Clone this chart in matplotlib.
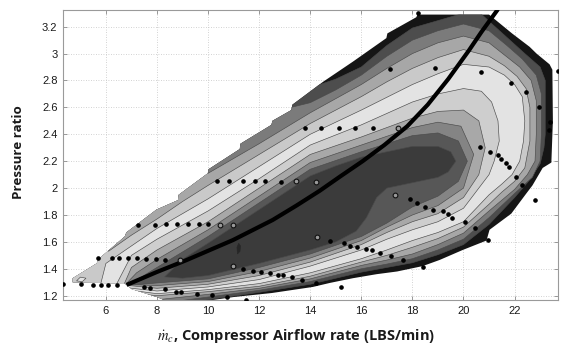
import matplotlib
matplotlib.use("Agg")
import matplotlib.pyplot as plt
from matplotlib.patches import Polygon

plt.rcParams['mathtext.fontset'] = 'stix'

# ---------------- data ----------------
x_ticks = [6, 8, 10, 12, 14, 16, 18, 20, 22]
y_ticks = [1.2, 1.4, 1.6, 1.8, 2.0, 2.2, 2.4, 2.6, 2.8, 3.0, 3.2]

# outer boundary of the measured map region
region = [(4.70, 1.30), (4.70, 1.33), (5.64, 1.44), (5.70, 1.47), (6.74, 1.64), (6.80, 1.67),
          (7.98, 1.84), (8.82, 1.91), (8.85, 1.95), (9.99, 2.11), (10.02, 2.14), (11.24, 2.29),
          (11.27, 2.33), (12.48, 2.47), (12.52, 2.50), (13.26, 2.58), (13.30, 2.62), (14.50, 2.79),
          (15.67, 2.94), (16.98, 3.115), (17.02, 3.15), (18.15, 3.27), (18.20, 3.29), (21.00, 3.29),
          (21.90, 3.15), (22.59, 3.05), (22.86, 3.00), (23.37, 2.92), (23.48, 2.88), (23.50, 2.50),
          (23.44, 2.19), (23.10, 2.15), (22.70, 2.02), (22.46, 1.96), (21.87, 1.81), (21.02, 1.69),
          (20.90, 1.61), (19.97, 1.54), (19.07, 1.466), (18.40, 1.42), (17.40, 1.38), (16.60, 1.36),
          (15.67, 1.33), (14.77, 1.295), (14.10, 1.265), (12.50, 1.22), (11.00, 1.19), (9.50, 1.15),
          (8.50, 1.15), (8.00, 1.19), (7.50, 1.22), (7.00, 1.25), (6.75, 1.29)]

# filled contour levels, outermost first
level_1 = [(3.5, 1.0), (3.5, 2.95), (14.0, 2.95), (14.3, 2.765), (15.0, 2.81), (16.0, 2.90), (17.0, 3.06),
           (18.0, 3.19), (19.0, 3.245), (20.0, 3.30), (20.1, 3.40), (21.0, 3.24), (21.7, 3.12), (22.4, 3.0),
           (23.0, 2.9), (23.2, 2.8), (23.2, 2.4), (23.15, 2.3), (23.0, 2.18), (22.5, 2.04), (22.0, 1.93),
           (21.0, 1.73), (20.0, 1.58), (19.0, 1.505), (18.0, 1.445), (17.0, 1.41), (16.0, 1.375),
           (14.0, 1.285), (12.0, 1.225), (10.0, 1.17), (8.0, 1.12)]
level_2 = [(3.5, 1.0), (3.5, 2.8), (12.9, 2.8), (13.25, 2.6), (14.0, 2.635), (15.0, 2.73), (16.0, 2.84),
           (17.0, 2.98), (18.0, 3.10), (19.0, 3.17), (20.0, 3.22), (21.0, 3.17), (21.7, 3.06), (22.3, 2.96),
           (22.85, 2.84), (23.05, 2.7), (23.05, 2.4), (23.0, 2.2), (22.7, 2.08), (22.0, 1.96), (21.0, 1.78),
           (20.0, 1.62), (19.0, 1.54), (18.0, 1.475), (17.0, 1.435), (16.0, 1.40), (14.0, 1.305),
           (12.0, 1.24), (10.0, 1.19), (8.0, 1.14)]
level_3 = [(3.5, 1.02), (3.5, 2.4), (9.7, 2.4), (10.0, 2.11), (11.0, 2.22), (12.0, 2.33), (13.0, 2.445),
           (14.0, 2.56), (15.0, 2.665), (16.0, 2.77), (17.0, 2.89), (18.0, 3.0), (19.0, 3.08), (20.0, 3.13),
           (21.0, 3.08), (21.6, 2.99), (22.2, 2.9), (22.65, 2.8), (22.85, 2.65), (22.85, 2.4), (22.8, 2.2),
           (22.5, 2.1), (22.0, 1.99), (21.0, 1.83), (20.0, 1.665), (19.0, 1.58), (18.0, 1.51), (17.0, 1.465),
           (16.0, 1.425), (14.0, 1.325), (12.0, 1.255), (10.0, 1.21), (8.0, 1.17)]
level_4 = [(3.5, 1.05), (3.5, 2.0), (5.8, 2.0), (6.1, 1.53), (7.0, 1.65), (8.0, 1.77), (9.0, 1.90),
           (10.0, 2.02), (11.0, 2.135), (12.0, 2.25), (13.0, 2.365), (14.0, 2.48), (15.0, 2.58), (16.0, 2.68),
           (17.0, 2.79), (18.0, 2.89), (19.0, 2.97), (20.0, 3.03), (21.0, 2.98), (21.6, 2.91), (22.1, 2.83),
           (22.45, 2.74), (22.6, 2.6), (22.6, 2.35), (22.4, 2.15), (22.0, 2.05), (21.5, 1.97), (21.0, 1.88),
           (20.0, 1.71), (19.0, 1.625), (18.0, 1.56), (17.0, 1.5), (16.0, 1.45), (14.0, 1.345), (12.0, 1.27),
           (10.0, 1.23), (8.0, 1.20), (7.0, 1.22)]
level_5 = [(5.8, 1.29), (6.0, 1.44), (7.0, 1.57), (8.0, 1.70), (9.0, 1.81), (10.0, 1.92), (11.0, 2.04),
           (12.0, 2.16), (13.0, 2.28), (14.0, 2.40), (15.0, 2.49), (16.0, 2.58), (17.0, 2.675), (18.0, 2.77),
           (19.0, 2.85), (20.0, 2.92), (21.0, 2.9), (21.6, 2.84), (22.0, 2.77), (22.3, 2.68), (22.4, 2.5),
           (22.35, 2.35), (22.2, 2.2), (21.9, 2.1), (21.5, 2.03), (21.0, 1.95), (20.0, 1.75), (19.0, 1.67),
           (18.0, 1.61), (17.0, 1.54), (16.0, 1.475), (14.0, 1.37), (12.0, 1.29), (10.0, 1.245),
           (8.0, 1.215), (7.0, 1.24), (6.3, 1.27)]
tip_loop = [(4.85, 1.31), (5.0, 1.338), (5.22, 1.33), (5.08, 1.305)]
level_6 = [(6.4, 1.28), (7.0, 1.50), (8.0, 1.62), (9.0, 1.725), (10.0, 1.83), (11.0, 1.95), (12.0, 2.07),
           (13.0, 2.195), (14.0, 2.32), (15.0, 2.395), (16.0, 2.47), (17.0, 2.555), (18.0, 2.64), (19.0, 2.70),
           (20.0, 2.74), (20.7, 2.72), (21.1, 2.64), (21.35, 2.5), (21.4, 2.35), (21.2, 2.2), (21.0, 2.1),
           (20.0, 1.85), (19.0, 1.75), (18.0, 1.69), (17.0, 1.62), (16.0, 1.54), (14.0, 1.42), (12.0, 1.32),
           (10.0, 1.265), (8.0, 1.235), (7.0, 1.255)]
level_7 = [(6.7, 1.28), (7.0, 1.41), (8.0, 1.54), (9.0, 1.645), (10.0, 1.75), (11.0, 1.875), (12.0, 2.0),
           (13.0, 2.125), (14.0, 2.25), (15.0, 2.315), (16.0, 2.38), (17.0, 2.45), (18.0, 2.52), (19.0, 2.57),
           (20.0, 2.58), (20.6, 2.5), (20.85, 2.3), (20.6, 2.1), (20.0, 1.93), (19.0, 1.81), (18.0, 1.75),
           (17.0, 1.67), (16.0, 1.58), (14.0, 1.45), (12.0, 1.35), (10.0, 1.285), (8.0, 1.255), (7.2, 1.27)]
level_8 = [(6.75, 1.28), (7.2, 1.37), (8.0, 1.47), (9.0, 1.58), (10.0, 1.69), (11.0, 1.815), (12.0, 1.94),
           (13.0, 2.065), (14.0, 2.19), (15.0, 2.255), (16.0, 2.32), (17.0, 2.385), (18.0, 2.45), (19.0, 2.49),
           (19.9, 2.46), (20.4, 2.25), (20.0, 2.0), (19.0, 1.87), (18.0, 1.80), (17.0, 1.71), (16.0, 1.61),
           (14.0, 1.48), (12.0, 1.38), (10.0, 1.305), (8.0, 1.275), (7.3, 1.28)]
level_9 = [(6.8, 1.28), (7.4, 1.34), (8.0, 1.41), (9.0, 1.525), (10.0, 1.64), (11.0, 1.765), (12.0, 1.89),
           (13.0, 2.015), (14.0, 2.14), (15.0, 2.205), (16.0, 2.27), (17.0, 2.33), (18.0, 2.39), (19.0, 2.41),
           (19.8, 2.35), (20.15, 2.2), (19.8, 2.05), (19.0, 1.94), (18.0, 1.86), (17.0, 1.74), (16.0, 1.64),
           (14.0, 1.51), (12.0, 1.41), (10.0, 1.325), (8.0, 1.295), (7.4, 1.285)]
level_10 = [(8.3, 1.34), (9.0, 1.47), (10.0, 1.59), (11.0, 1.715), (12.0, 1.84), (13.0, 1.965), (14.0, 2.09),
            (15.0, 2.165), (16.0, 2.23), (17.0, 2.27), (18.0, 2.31), (19.0, 2.31), (19.5, 2.27), (19.7, 2.2),
            (19.4, 2.12), (19.0, 2.08), (18.0, 2.04), (17.0, 2.0), (16.6, 1.93), (16.2, 1.78), (15.8, 1.68),
            (15.0, 1.60), (14.0, 1.54), (12.0, 1.44), (10.0, 1.35), (9.0, 1.33)]
blob = [(11.15, 1.51), (11.25, 1.53), (11.27, 1.57), (11.2, 1.59), (11.13, 1.56)]

level_colors = ['#151515', '#4d4d4d', '#7b7b7b', '#a7a7a7', '#c9c9c9', '#e3e3e3',
                '#cecece', '#a8a8a8', '#848484', '#575757', '#3b3b3b']

# fitted operating line
line_x = [6.81, 7.98, 9.16, 10.98, 12.53, 13.46, 14.37, 15.2, 16.05, 16.9, 17.8, 18.6, 19.4, 20.2, 20.7, 21.35]
line_y = [1.28, 1.375, 1.465, 1.614, 1.763, 1.87, 1.98, 2.09, 2.2, 2.32, 2.46, 2.62, 2.81, 3.02, 3.16, 3.33]

# measured points
pts_x = [4.33, 5.02, 5.50, 5.80, 6.09, 6.42, 5.68, 6.25, 6.52, 6.87, 7.20, 7.55, 7.98, 8.33,
         7.26, 7.94, 8.37, 8.77, 9.22, 9.64, 10.0, 10.33, 10.83, 11.35, 11.83, 12.22, 12.85,
         7.50, 7.72, 8.33, 8.73, 8.93, 9.55, 10.16, 10.73, 11.48, 11.37, 11.77, 12.09, 12.42, 12.74,
         12.94, 13.27, 13.66, 14.24, 15.22, 14.76, 15.31, 15.55, 15.85, 16.2, 16.4, 16.72, 17.18,
         17.64, 18.43, 17.9, 18.18, 18.49, 18.81, 19.2, 19.4, 19.55, 20.05, 20.45, 20.96, 22.04,
         22.3, 22.78, 20.63, 21.02, 21.35, 21.48, 21.65, 21.77, 23.37, 23.33, 18.22, 17.11, 18.87,
         20.7, 21.87, 22.46, 22.94, 23.7, 13.79, 14.44, 15.13, 15.74, 16.46]
pts_y = [1.285, 1.285, 1.28, 1.28, 1.28, 1.28, 1.483, 1.483, 1.483, 1.478, 1.478, 1.473, 1.47, 1.465,
         1.725, 1.725, 1.733, 1.733, 1.733, 1.733, 1.733, 2.053, 2.053, 2.053, 2.053, 2.053, 2.048,
         1.262, 1.26, 1.248, 1.23, 1.225, 1.213, 1.205, 1.188, 1.17, 1.398, 1.386, 1.374, 1.367, 1.354,
         1.354, 1.341, 1.317, 1.292, 1.267, 1.609, 1.59, 1.572, 1.56, 1.547, 1.54, 1.515, 1.497,
         1.465, 1.411, 1.919, 1.887, 1.86, 1.837, 1.83, 1.807, 1.78, 1.746, 1.701, 1.614, 2.085,
         2.023, 1.912, 2.308, 2.27, 2.246, 2.214, 2.19, 2.159, 2.494, 2.432, 3.30, 2.886, 2.895,
         2.866, 2.779, 2.717, 2.605, 2.87, 2.445, 2.445, 2.445, 2.445, 2.445]
ring_x = [8.90, 10.46, 10.98, 13.46, 14.22, 10.98, 14.27, 17.31, 17.44]
ring_y = [1.465, 1.725, 1.725, 2.053, 2.043, 1.423, 1.639, 1.949, 2.445]

# ---------------- figure ----------------
fig = plt.figure(figsize=(5.61, 3.49), dpi=100)
ax = fig.add_axes([63 / 561, 49 / 349, 495 / 561, 290 / 349])
ax.set_xlim(4.32, 23.7)
ax.set_ylim(1.168, 3.324)

ax.grid(True, linestyle=(0, (1, 2)), color='#c4c4c4', linewidth=0.6)
ax.set_axisbelow(True)

mask = Polygon(region, closed=True, facecolor=level_colors[0], edgecolor='none', zorder=2)
ax.add_patch(mask)

levels = [level_1, level_2, level_3, level_4, level_5, level_6, level_7, level_8, level_9, level_10]
for i, lv in enumerate(levels, start=1):
    p = Polygon(lv, closed=True, facecolor=level_colors[i], edgecolor='#4a4a4a',
                linewidth=0.45, zorder=2 + i * 0.1)
    ax.add_patch(p)
    p.set_clip_path(mask)
    if i == 4:
        t = Polygon(tip_loop, closed=True, facecolor=level_colors[5], edgecolor='#4a4a4a',
                    linewidth=0.45, zorder=2 + i * 0.1 + 0.05)
        ax.add_patch(t)
b = Polygon(blob, closed=True, facecolor='#262626', edgecolor='#262626', linewidth=0.4, zorder=3.5)
ax.add_patch(b)

ax.plot(line_x, line_y, color='black', linewidth=3.0, solid_capstyle='butt', zorder=5)
ax.plot(pts_x, pts_y, linestyle='none', marker='o', markersize=2.3, color='black', zorder=6)
ax.plot(ring_x, ring_y, linestyle='none', marker='o', markersize=3.4, markerfacecolor='#9a9a9a',
        markeredgecolor='#111111', markeredgewidth=0.8, zorder=6)

ax.set_xticks(x_ticks)
ax.set_yticks(y_ticks)
ax.set_xticklabels([f'{v:g}' for v in x_ticks])
ax.set_yticklabels([f'{v:g}' for v in y_ticks])
ax.tick_params(direction='in', top=True, right=True, length=3, width=0.6, color='#8a8a8a',
               labelsize=8, labelcolor='#1a1a1a', pad=4)
for lab in ax.get_xticklabels() + ax.get_yticklabels():
    lab.set_fontfamily('Liberation Sans')
for s in ax.spines.values():
    s.set_color('#9a9a9a')
    s.set_linewidth(0.8)

fig.text(296 / 561, 1 - 336 / 349, r'$\dot{m}_c$, Compressor Airflow rate (LBS/min)',
         ha='center', va='center', fontsize=10.5, fontweight='bold', family='Open Sans', color='#1a1a1a')
fig.text(18 / 561, 1 - 152 / 349, 'Pressure ratio', rotation=90, ha='center', va='center',
         fontsize=9.6, fontweight='bold', family='Open Sans', color='#1a1a1a')

fig.savefig('out.png', dpi=100)
